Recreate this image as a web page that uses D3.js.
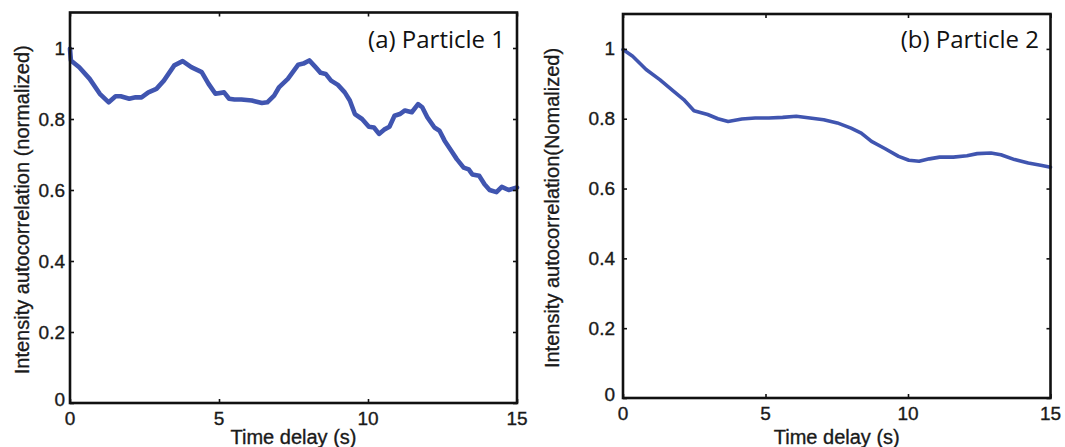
<!DOCTYPE html>
<html>
<head>
<meta charset="utf-8">
<script src="https://cdn.jsdelivr.net/npm/d3@7"></script>
<style>
  html, body { margin: 0; padding: 0; background: #fff; }
  svg { display: block; }
</style>
</head>
<body>
<svg id="chart" width="1065" height="447"></svg>
<script>
// ---- data ----
const timeA = [0, 0.03, 0.31, 0.66, 1.0, 1.3, 1.53, 1.7, 1.99, 2.2, 2.4, 2.63, 2.9, 3.15, 3.5, 3.78, 4.07, 4.42, 4.65, 4.88, 5.17, 5.34, 5.52, 5.75, 6.1, 6.44, 6.62, 6.85, 7.02, 7.31, 7.66, 7.83, 8.03, 8.24, 8.41, 8.58, 8.76, 8.99, 9.22, 9.39, 9.56, 9.8, 10.03, 10.2, 10.37, 10.54, 10.72, 10.89, 11.07, 11.24, 11.47, 11.68, 11.82, 11.99, 12.23, 12.4, 12.57, 12.8, 12.98, 13.21, 13.38, 13.5, 13.73, 13.91, 14.08, 14.31, 14.49, 14.72, 15.0];
const valuesA = [0.998, 0.965, 0.946, 0.913, 0.871, 0.847, 0.864, 0.864, 0.857, 0.861, 0.861, 0.875, 0.885, 0.908, 0.951, 0.963, 0.946, 0.932, 0.899, 0.871, 0.875, 0.857, 0.855, 0.855, 0.852, 0.845, 0.847, 0.866, 0.89, 0.913, 0.953, 0.956, 0.965, 0.946, 0.93, 0.927, 0.908, 0.896, 0.875, 0.852, 0.814, 0.8, 0.778, 0.776, 0.758, 0.77, 0.778, 0.809, 0.814, 0.824, 0.819, 0.842, 0.833, 0.805, 0.776, 0.767, 0.739, 0.71, 0.687, 0.663, 0.658, 0.644, 0.64, 0.616, 0.6, 0.594, 0.609, 0.6, 0.607];

const timeB = [0, 0.34, 0.81, 1.29, 1.77, 2.13, 2.49, 2.97, 3.33, 3.69, 4.17, 4.64, 5.12, 5.6, 6.08, 6.56, 7.04, 7.52, 8.0, 8.36, 8.72, 9.2, 9.67, 10.03, 10.39, 10.75, 11.11, 11.59, 12.07, 12.43, 12.91, 13.26, 13.74, 14.22, 14.7, 15.0];
const valuesB = [0.998, 0.979, 0.941, 0.912, 0.879, 0.855, 0.823, 0.812, 0.8, 0.792, 0.799, 0.802, 0.802, 0.804, 0.807, 0.802, 0.797, 0.788, 0.773, 0.759, 0.735, 0.714, 0.692, 0.681, 0.678, 0.685, 0.69, 0.69, 0.694, 0.7, 0.702, 0.697, 0.683, 0.673, 0.666, 0.661];

const xTicks = [0, 5, 10, 15];
const yTicks = [0, 0.2, 0.4, 0.6, 0.8, 1];
const xTickLabels = ["0", "5", "10", "15"];
const yTickLabels = ["0", "0.2", "0.4", "0.6", "0.8", "1"];

const panelTitles = ["(a) Particle 1", "(b) Particle 2"];
const yLabels = ["Intensity autocorrelation (normalized)", "Intensity autocorrelation(Nomalized)"];
const xLabel = "Time delay (s)";

// ---- layout ----
const panels = [
  { time: timeA, values: valuesA, title: panelTitles[0], ylab: yLabels[0],
    left: 70, right: 517, top: 12.5, bottom: 403, ylabX: 29, ytickGap: 5, lw: 4.6, titleX: 505 },
  { time: timeB, values: valuesB, title: panelTitles[1], ylab: yLabels[1],
    left: 623, right: 1050.5, top: 14, bottom: 398, ylabX: 559, ytickGap: 8, lw: 3.6, titleX: 1039 }
];

const svg = d3.select("#chart");
const tickFont = "Arial, 'Liberation Sans', Helvetica, sans-serif";
const textColor = "#1a1a1a";

function heavy(sel) {
  return sel.attr("fill", textColor).attr("stroke", textColor).attr("stroke-width", 0.35);
}

panels.forEach(p => {
  const x = d3.scaleLinear().domain([0, 15]).range([p.left, p.right]);
  const y = d3.scaleLinear().domain([0, 1.1]).range([p.bottom, p.top]);
  const g = svg.append("g");

  // data line
  const line = d3.line().x((d, i) => x(p.time[i])).y(d => y(d));
  g.append("path")
    .datum(p.values)
    .attr("d", line)
    .attr("fill", "none")
    .attr("stroke", "#4055b0")
    .attr("stroke-width", p.lw)
    .attr("stroke-linejoin", "round")
    .attr("stroke-linecap", "round");

  // axes (inward ticks, all four sides)
  const tl = 4;
  const bottomAxis = d3.axisBottom(x).tickValues(xTicks).tickSize(-tl).tickFormat(() => "");
  const topAxis = d3.axisTop(x).tickValues(xTicks).tickSize(-tl).tickFormat(() => "");
  const leftAxis = d3.axisLeft(y).tickValues(yTicks).tickSize(-tl).tickFormat(() => "");
  const rightAxis = d3.axisRight(y).tickValues(yTicks).tickSize(-tl).tickFormat(() => "");
  [[bottomAxis, `translate(0,${p.bottom})`], [topAxis, `translate(0,${p.top})`],
   [leftAxis, `translate(${p.left},0)`], [rightAxis, `translate(${p.right},0)`]].forEach(([ax, tr]) => {
    const a = g.append("g").attr("transform", tr).call(ax);
    a.select(".domain").remove();
    a.selectAll(".tick line").attr("stroke", "#111").attr("stroke-width", 1.6);
  });

  // frame
  g.append("rect")
    .attr("x", p.left).attr("y", p.top)
    .attr("width", p.right - p.left).attr("height", p.bottom - p.top)
    .attr("fill", "none").attr("stroke", "#111").attr("stroke-width", 2.6);

  // x tick labels
  heavy(g.selectAll(".xtl").data(xTicks).enter().append("text")
    .attr("x", d => x(d)).attr("y", p.bottom + 22)
    .attr("text-anchor", "middle")
    .attr("font-family", tickFont).attr("font-size", 19))
    .text((d, i) => xTickLabels[i]);

  // y tick labels
  heavy(g.selectAll(".ytl").data(yTicks).enter().append("text")
    .attr("x", p.left - p.ytickGap).attr("y", d => y(d) + (d === 0 ? 3 : 6.5))
    .attr("text-anchor", "end")
    .attr("font-family", tickFont).attr("font-size", 19))
    .text((d, i) => yTickLabels[i]);

  // x label
  heavy(g.append("text")
    .attr("x", (p.left + p.right) / 2).attr("y", 444)
    .attr("text-anchor", "middle")
    .attr("font-family", tickFont).attr("font-size", 20))
    .text(xLabel);

  // y label
  const cy = (p.top + p.bottom) / 2 + 2;
  heavy(g.append("text")
    .attr("transform", `translate(${p.ylabX},${cy}) rotate(-90)`)
    .attr("text-anchor", "middle")
    .attr("font-family", tickFont).attr("font-size", 20))
    .text(p.ylab);

  // panel title
  g.append("text")
    .attr("x", p.titleX).attr("y", 48)
    .attr("text-anchor", "end")
    .attr("font-family", "'Open Sans', 'Noto Sans', sans-serif").attr("font-size", 24)
    .attr("fill", "#111")
    .text(p.title);
});
</script>
</body>
</html>
